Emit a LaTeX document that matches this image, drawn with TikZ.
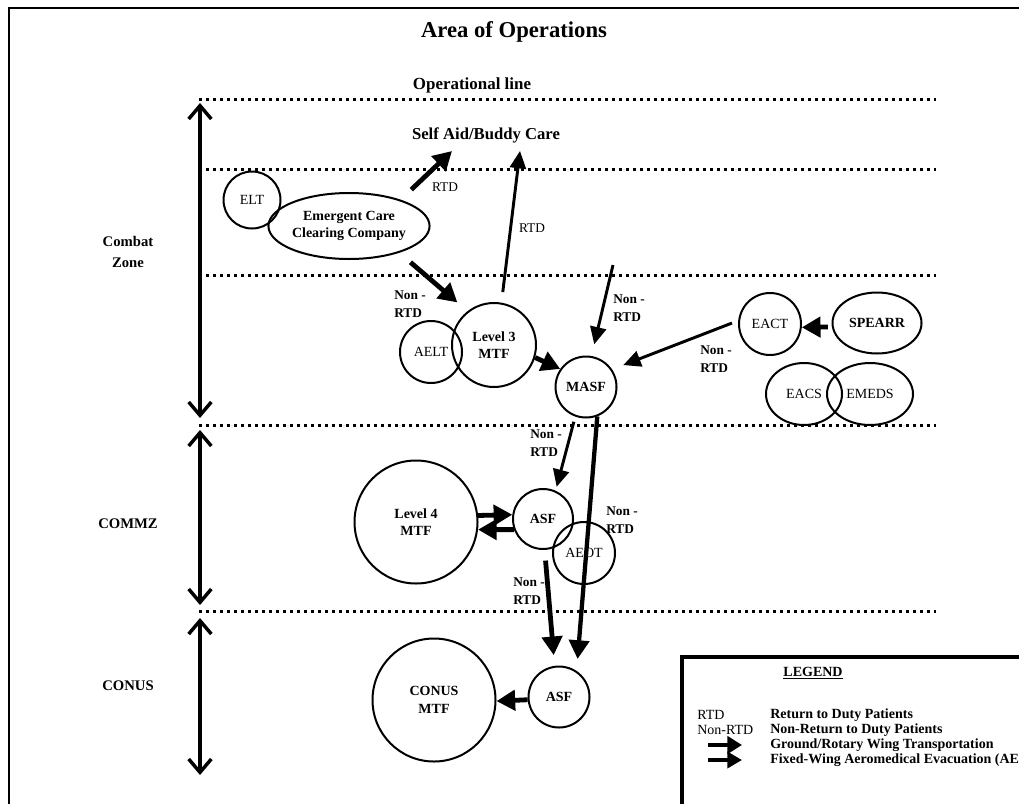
\documentclass[tikz,border=0pt]{standalone}
\usepackage{fontspec}
\setmainfont{Liberation Serif}
\usetikzlibrary{arrows.meta,shapes.geometric}
\begin{document}
\begin{tikzpicture}[x=0.75pt,y=-0.75pt,
  circ/.style={draw,circle,line width=1.5pt,inner sep=0pt,font=\fontsize{10.5}{13}\selectfont,align=center},
  ell/.style={draw,ellipse,line width=1.5pt,inner sep=0pt,font=\fontsize{10.5}{13}\selectfont,align=center},
  dotline/.style={line width=2.25pt,dash pattern=on 2.25pt off 3pt},
  zonearrow/.style={line width=2.6pt,{Straight Barb[length=10pt,width=17pt]}-{Straight Barb[length=10pt,width=17pt]}},
  garrow/.style={line width=3.6pt,-{Triangle[length=14pt,width=15pt]}},
  farrow/.style={line width=2.2pt,-{Triangle[length=13pt,width=12pt]}},
  lbl/.style={font=\fontsize{10}{13.5}\selectfont\bfseries,align=left,inner sep=0pt,anchor=west},
  rlbl/.style={font=\fontsize{10}{12}\selectfont,inner sep=0pt},
  zone/.style={font=\fontsize{11}{15.5}\selectfont\bfseries,align=center},
  leg/.style={font=\fontsize{10.5}{12}\selectfont,inner sep=0pt,anchor=west},
]
\useasboundingbox (0,0) rectangle (1019,803);
% frame
\draw[line width=2pt] (9,810) -- (9,8) -- (1025,8);
% titles
\node[font=\fontsize{17}{20}\selectfont\bfseries] (title) at (514,32) {Area of Operations};
\node[font=\fontsize{12.7}{15}\selectfont\bfseries] (opline) at (472,85) {Operational line};
\node[font=\fontsize{12.5}{15}\selectfont\bfseries] (selfaid) at (486,135) {Self Aid/Buddy Care};
% dotted lines
\foreach \yy in {99,169,275,425,611} \draw[dotline] (199,\yy) -- (936,\yy);
% zone arrows and labels
\draw[zonearrow] (200,103) -- (200,418);
\draw[zonearrow] (200,430) -- (200,605);
\draw[zonearrow] (200,618) -- (200,775);
\node[zone] (zcombat) at (128,252) {Combat\\Zone};
\node[zone] (zcommz) at (128,524) {COMMZ};
\node[zone] (zconus) at (128,686) {CONUS};
% nodes
\node[circ,minimum size=42.75pt] (elt) at (252,200) {ELT};
\node[ell,minimum width=103.5pt,minimum height=49.5pt,font=\fontsize{10.5}{13}\selectfont\bfseries] (eccc) at (349,226) {Emergent Care\\Clearing Company};
\node[circ,minimum size=46.5pt] (aelt) at (431,352) {AELT};
\node[circ,minimum size=63pt,font=\fontsize{10.5}{13}\selectfont\bfseries] (l3) at (494,345) {Level 3\\MTF};
\node[circ,minimum size=45.75pt,font=\fontsize{10.5}{13}\selectfont\bfseries] (masf) at (586,387) {MASF};
\node[circ,minimum size=46.5pt] (eact) at (770,324) {EACT};
\node[ell,minimum width=66.75pt,minimum height=45.75pt,font=\fontsize{10.5}{13}\selectfont\bfseries] (spearr) at (877,323) {SPEARR};
\node[ell,minimum width=57pt,minimum height=46.5pt] (eacs) at (804,394) {EACS};
\node[ell,minimum width=64.5pt,minimum height=46.5pt] (emeds) at (870,394) {EMEDS};
\node[circ,minimum size=92.25pt,font=\fontsize{10.5}{13}\selectfont\bfseries] (l4) at (416,522) {Level 4\\MTF};
\node[circ,minimum size=45pt,font=\fontsize{10.5}{13}\selectfont\bfseries] (asfa) at (543,519) {ASF};
\node[circ,minimum size=46.5pt] (aeot) at (584,553) {AEOT};
\node[circ,minimum size=45.75pt,font=\fontsize{10.5}{13}\selectfont\bfseries] (asfb) at (559,697) {ASF};
\node[circ,minimum size=92.25pt,font=\fontsize{10.5}{13}\selectfont\bfseries] (conusmtf) at (434,700) {CONUS\\MTF};
% free arrow ends
\coordinate (sa1) at (452,151);
\coordinate (sa2) at (520,151);
\coordinate (top1) at (613,265);
% arrows
\draw[garrow,shorten <=11pt] (eccc.27) -- (sa1);
\draw[farrow,shorten <=8pt] (l3.80) -- (sa2);
\draw[garrow,shorten <=11pt,shorten >=10pt] (eccc.-28.5) -- (l3.128);
\draw[garrow] (l3.-17) -- (masf.145);
\draw[farrow,shorten >=9pt] (top1) -- (masf.80);
\draw[farrow,shorten <=5pt,shorten >=9pt] (eact.174) -- (masf.34);
\draw[garrow,shorten <=3pt] (spearr.185) -- (eact.-6);
\draw[farrow,shorten <=4pt,shorten >=3pt] (masf.-110) -- (asfa.66);
\draw[garrow,line width=3.2pt,shorten >=9pt] (masf.-69) -- (asfb.56);
\draw[garrow] (l4.6) -- (asfa.172);
\draw[garrow] (asfa.-160) -- (l4.-7);
\draw[garrow,shorten <=8pt,shorten >=8pt] (asfa.-87) -- (asfb.98);
\draw[garrow] (asfb.185) -- (conusmtf.-1);
% arrow labels
\node[rlbl] (r1) at (445,187) {RTD};
\node[rlbl] (r2) at (532,228) {RTD};
\node[lbl] (n1) at (394,304) {Non -\\RTD};
\node[lbl] (n2) at (613,308) {Non -\\RTD};
\node[lbl] (n3) at (700,359) {Non -\\RTD};
\node[lbl] (n4) at (530,443) {Non -\\RTD};
\node[lbl] (n5) at (606,520) {Non -\\RTD};
\node[lbl] (n6) at (513,591) {Non -\\RTD};
% legend
\draw[line width=2.5pt] (1025,657) -- (682,657) -- (682,810);
\node[font=\fontsize{10.5}{12}\selectfont\bfseries] (legtitle) at (813,673) {\underline{LEGEND}};
\node[leg] (k1) at (697,715) {RTD};
\node[leg] (k2) at (697,730) {Non-RTD};
\node[leg,font=\fontsize{10.5}{12}\selectfont\bfseries] (d1) at (770,715) {Return to Duty Patients};
\node[leg,font=\fontsize{10.5}{12}\selectfont\bfseries] (d2) at (770,730) {Non-Return to Duty Patients};
\node[leg,font=\fontsize{10.5}{12}\selectfont\bfseries] (d3) at (770,745) {Ground/Rotary Wing Transportation};
\node[leg,font=\fontsize{10.5}{12}\selectfont\bfseries] (d4) at (770,760) {Fixed-Wing Aeromedical Evacuation (AE)};
\coordinate (ga) at (708,745);
\coordinate (gb) at (742,745);
\coordinate (fa) at (708,760);
\coordinate (fb) at (742,760);
\draw[garrow,-{Triangle[length=11pt,width=13pt]}] (ga) -- (gb);
\draw[garrow,line width=2.6pt,-{Triangle[length=11pt,width=12pt]}] (fa) -- (fb);
\end{tikzpicture}
\end{document}
